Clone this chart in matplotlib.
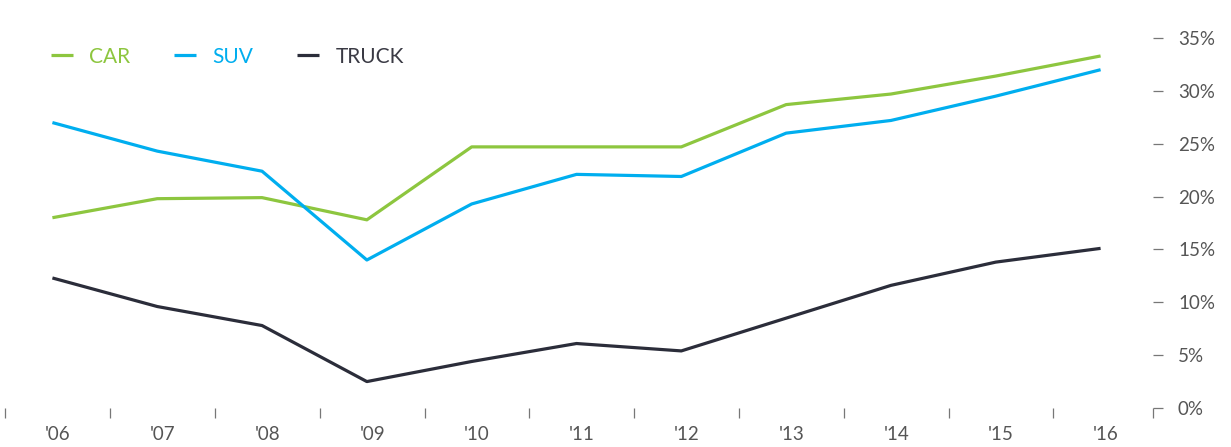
import matplotlib
matplotlib.use("Agg")
import matplotlib.pyplot as plt
import numpy as np

years = ["'06", "'07", "'08", "'09", "'10", "'11", "'12", "'13", "'14", "'15", "'16"]
car = [18.0, 19.8, 19.9, 17.8, 24.7, 24.7, 24.7, 28.7, 29.7, 31.4, 33.3]
suv = [27.0, 24.3, 22.4, 14.0, 19.3, 22.1, 21.9, 26.0, 27.2, 29.5, 32.0]
truck = [12.3, 9.6, 7.8, 2.5, 4.4, 6.1, 5.4, 8.5, 11.6, 13.8, 15.1]
yticks = [0, 5, 10, 15, 20, 25, 30, 35]

plt.rcParams['font.family'] = ['Lato', 'DejaVu Sans']

fig = plt.figure(figsize=(12.31, 4.47), dpi=100)
ax = fig.add_axes([0, 39 / 447, 1153 / 1231, (408 - 38) / 447])

x = np.arange(len(years))
ax.plot(x, car, color='#8dc63f', lw=2.3, label='CAR', solid_capstyle='butt')
ax.plot(x, suv, color='#00aeef', lw=2.3, label='SUV', solid_capstyle='butt')
ax.plot(x, truck, color='#2b2d3a', lw=2.3, label='TRUCK', solid_capstyle='butt')

ax.set_xlim(-0.5, 10.5)
ax.set_ylim(0, 35)
for s in ax.spines.values():
    s.set_visible(False)

# y axis on the right
ax.yaxis.tick_right()
ax.set_yticks(yticks)
ax.set_yticklabels([f"{v}%" for v in yticks])
ax.tick_params(axis='y', length=7, width=0.9, color='#777777', pad=11,
               labelsize=13.5, labelcolor='#555555')

# x ticks at category boundaries, labels at centres
ax.set_xticks(list(np.arange(11) - 0.45) + [10.5])
ax.set_xticklabels([])
ax.tick_params(axis='x', which='major', length=7, width=0.9, color='#777777')
ax.set_xticks(x + 0.05, minor=True)
ax.set_xticklabels(years, minor=True)
ax.tick_params(axis='x', which='minor', length=0, pad=13,
               labelsize=13.5, labelcolor='#555555')

leg = ax.legend(loc='upper left', bbox_to_anchor=(32 / 1231, 1 - 28 / 447),
                bbox_transform=fig.transFigure, ncol=3, frameon=False,
                handlelength=1.05, handletextpad=0.8, columnspacing=2.1,
                fontsize=15)
for txt, c in zip(leg.get_texts(), ['#8dc63f', '#00aeef', '#3a3a44']):
    txt.set_color(c)
for h in leg.get_lines():
    h.set_linewidth(2.3)

fig.savefig("out.png", dpi=100)
